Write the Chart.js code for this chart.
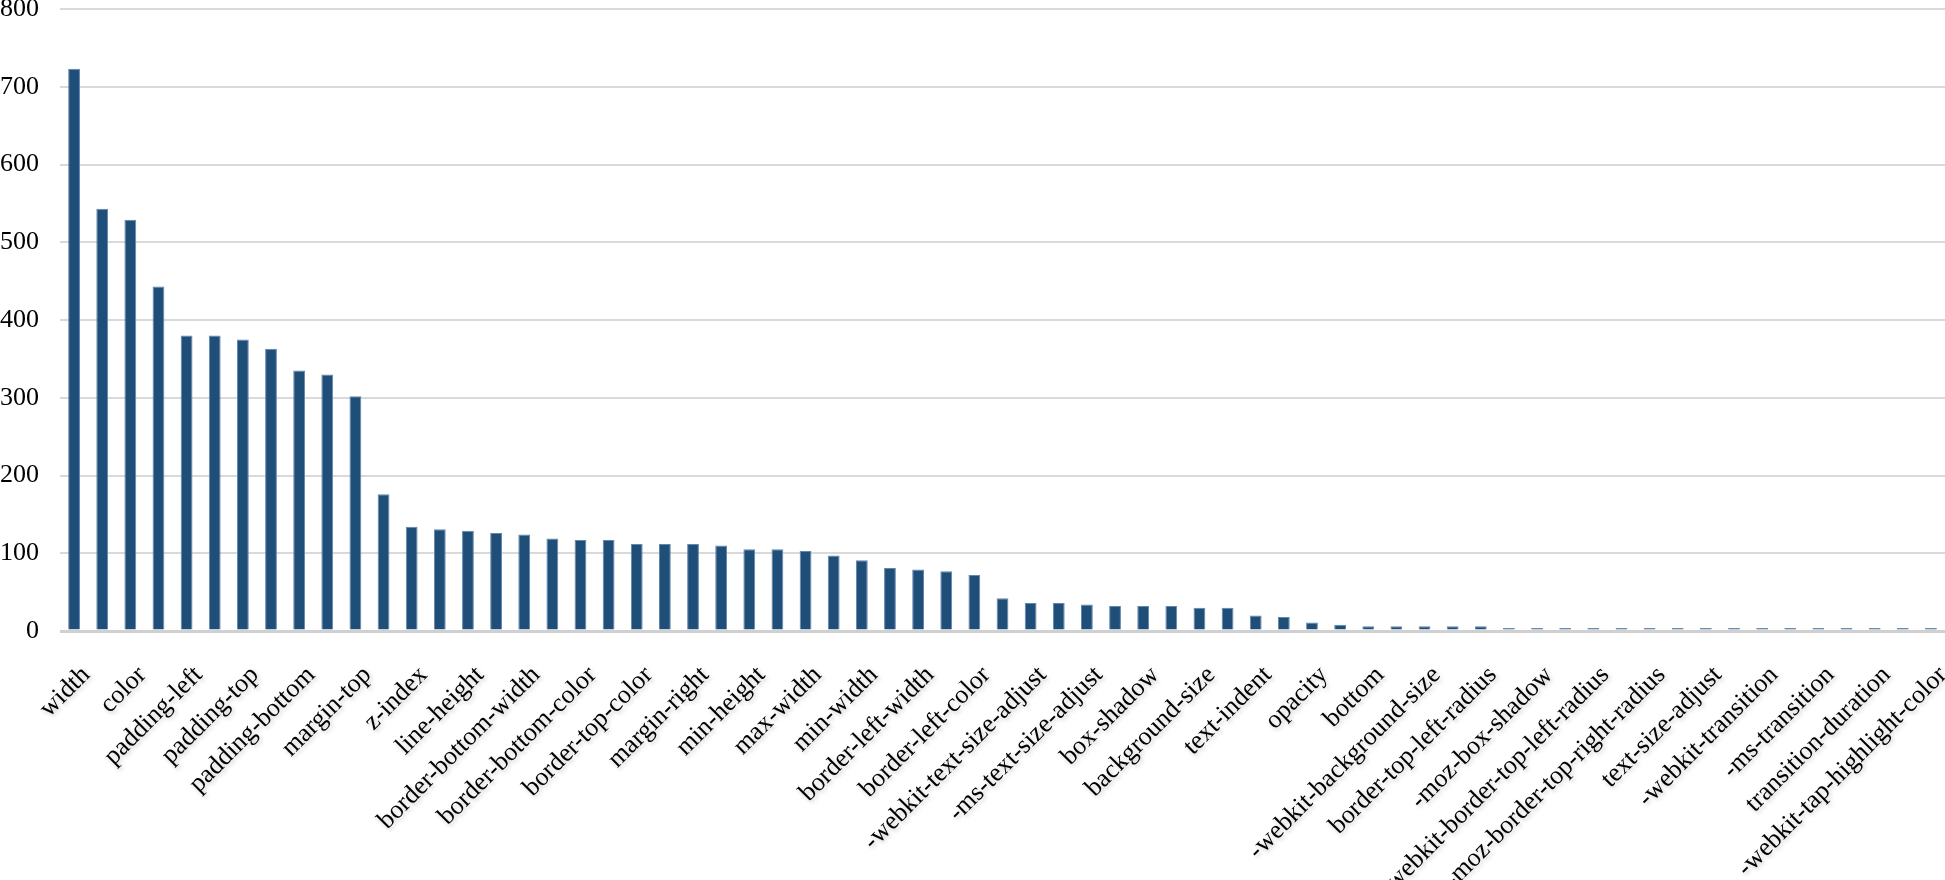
<!DOCTYPE html>
<html>
<head>
<meta charset="utf-8">
<script src="https://cdn.jsdelivr.net/npm/chart.js@4.4.1/dist/chart.umd.min.js"></script>
<style>
  html, body { margin: 0; padding: 0; background: #fff; overflow: hidden; }
  body { width: 1945px; height: 880px; position: relative; }
  #wrap { position: absolute; left: 0; top: 0; width: 1945px; height: 1000px; }
</style>
</head>
<body>
<div id="wrap"><canvas id="chart"></canvas></div>
<script>
// categories (every other one is not labelled on the axis)
const categories = [
  'width', '', 'color', '', 'padding-left', '', 'padding-top', '', 'padding-bottom', '',
  'margin-top', '', 'z-index', '', 'line-height', '', 'border-bottom-width', '', 'border-bottom-color', '',
  'border-top-color', '', 'margin-right', '', 'min-height', '', 'max-width', '', 'min-width', '',
  'border-left-width', '', 'border-left-color', '', '-webkit-text-size-adjust', '', '-ms-text-size-adjust', '', 'box-shadow', '',
  'background-size', '', 'text-indent', '', 'opacity', '', 'bottom', '', '-webkit-background-size', '',
  'border-top-left-radius', '', '-moz-box-shadow', '', '-webkit-border-top-left-radius', '', '-moz-border-top-right-radius', '', 'text-size-adjust', '',
  '-webkit-transition', '', '-ms-transition', '', 'transition-duration', '', '-webkit-tap-highlight-color'
];

const counts = [
  723, 543, 529, 443, 380, 380, 375, 363, 335, 330,
  302, 176, 134, 131, 129, 126, 124, 119, 117, 117,
  112, 112, 112, 110, 105, 105, 103, 97, 91, 81,
  79, 77, 72, 42, 36, 36, 34, 32, 32, 32,
  30, 30, 20, 18, 11, 8, 6, 6, 6, 6,
  6, 4, 4, 4, 4, 4, 4, 4, 4, 4,
  4, 4, 4, 4, 4, 4, 4
];

const yTicks = [0, 100, 200, 300, 400, 500, 600, 700, 800];

const serif = "'Liberation Serif', 'Times New Roman', serif";

// plot box inside the canvas (the long labels run off the bottom, as in the original)
const plotLeft = 60;
const plotTop = 9;
const plotBottom = 631;

// soft shadow behind the x labels (they are drawn after the bars)
const labelShadow = {
  id: 'labelShadow',
  afterDatasetsDraw(chart) {
    const ctx = chart.ctx;
    ctx.shadowColor = 'rgba(0, 0, 0, 0.22)';
    ctx.shadowBlur = 4;
    ctx.shadowOffsetX = 2;
    ctx.shadowOffsetY = 2;
  },
  afterDraw(chart) {
    const ctx = chart.ctx;
    ctx.shadowColor = 'rgba(0, 0, 0, 0)';
    ctx.shadowBlur = 0;
    ctx.shadowOffsetX = 0;
    ctx.shadowOffsetY = 0;
  }
};

const ctx = document.getElementById('chart').getContext('2d');
new Chart(ctx, {
  type: 'bar',
  data: {
    labels: categories,
    datasets: [{
      data: counts,
      backgroundColor: '#1F4E79',
      borderColor: '#6287AE',
      borderWidth: 1,
      barPercentage: 0.42,
      categoryPercentage: 1
    }]
  },
  options: {
    responsive: true,
    maintainAspectRatio: false,
    animation: false,
    layout: { padding: 0 },
    plugins: {
      legend: { display: false },
      tooltip: { enabled: false }
    },
    scales: {
      x: {
        grid: { display: false },
        border: { display: false },
        afterFit: scale => {
          scale.height = scale.chart.height - plotBottom;
          scale.paddingLeft = 0;
          scale.paddingRight = 0;
        },
        ticks: {
          autoSkip: false,
          minRotation: 45,
          maxRotation: 45,
          color: '#000',
          padding: 21,
          labelOffset: 12,
          z: 1,
          font: { family: serif, size: 26 }
        }
      },
      y: {
        min: 0,
        max: 800,
        afterBuildTicks: scale => {
          scale.ticks = yTicks.map(v => ({ value: v }));
        },
        afterFit: scale => {
          scale.width = plotLeft;
          scale.paddingTop = plotTop;
          scale.paddingBottom = 0;
        },
        grid: {
          color: c => c.index === 0 ? '#d0d0d0' : '#d9d9d9',
          lineWidth: c => c.index === 0 ? 3 : 2,
          drawTicks: false
        },
        border: { display: false },
        ticks: {
          color: '#000',
          padding: 21,
          font: { family: serif, size: 26 }
        }
      }
    }
  },
  plugins: [labelShadow]
});
</script>
</body>
</html>
